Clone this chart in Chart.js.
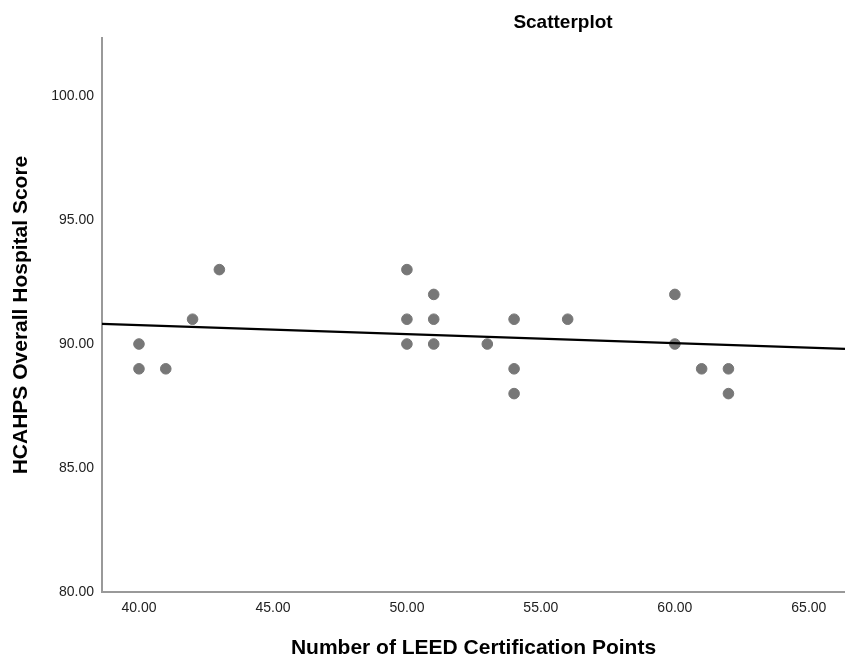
<!DOCTYPE html>
<html>
<head>
<meta charset="utf-8">
<script src="https://cdn.jsdelivr.net/npm/chart.js@4/dist/chart.umd.min.js"></script>
<style>
html,body{margin:0;padding:0;background:#fff;overflow:hidden;}
#wrap{width:845px;height:661px;position:relative;}
</style>
</head>
<body>
<div id="wrap"><canvas id="c" width="845" height="661"></canvas></div>
<script>
// LEED points (x) and HCAHPS score (y)
const leedPoints = [40, 40, 41, 42, 43, 50, 50, 50, 51, 51, 51, 53, 54, 54, 54, 56, 60, 60, 61, 62, 62];
const hcahpsScores = [90, 89, 89, 91, 93, 93, 91, 90, 92, 91, 90, 90, 91, 89, 88, 91, 92, 90, 89, 89, 88];
// fit line endpoints
const fitX = [38.62, 66.35];
const fitY = [90.81, 89.80];
const xTicks = [40, 45, 50, 55, 60, 65];
const yTicks = [80, 85, 90, 95, 100];
const xRange = [38.62, 66.35];
const yRange = [80, 102.34];

const chartTitle = 'Scatterplot';
const xTitle = 'Number of LEED Certification Points';
const yTitle = 'HCAHPS Overall Hospital Score';

const FONT = '"Liberation Sans", Arial, sans-serif';

const scatterData = leedPoints.map((x, i) => ({x: x, y: hcahpsScores[i]}));
const lineData = fitX.map((x, i) => ({x: x, y: fitY[i]}));

const titlePlugin = {
  id: 'topTitle',
  afterDraw(chart) {
    const ctx = chart.ctx;
    ctx.save();
    ctx.font = 'bold 19px ' + FONT;
    ctx.fillStyle = '#000';
    ctx.textAlign = 'center';
    ctx.textBaseline = 'middle';
    ctx.fillText(chartTitle, 563, 23);
    ctx.restore();
  }
};

new Chart(document.getElementById('c'), {
  type: 'scatter',
  data: {
    datasets: [
      {
        type: 'scatter',
        data: scatterData,
        backgroundColor: '#777777',
        borderColor: '#777777',
        pointRadius: 5.3,
        pointHoverRadius: 5.3,
        order: 2
      },
      {
        type: 'line',
        data: lineData,
        borderColor: '#000000',
        borderWidth: 2.2,
        pointRadius: 0,
        fill: false,
        order: 1
      }
    ]
  },
  plugins: [titlePlugin],
  options: {
    responsive: false,
    animation: false,
    events: [],
    layout: {autoPadding: false, padding: {top: 38, right: 0, left: 0, bottom: 0}},
    plugins: {legend: {display: false}, tooltip: {enabled: false}},
    scales: {
      x: {
        type: 'linear',
        min: xRange[0],
        max: xRange[1],
        afterBuildTicks: s => { s.ticks = xTicks.map(v => ({value: v})); },
        afterFit: s => { s.height = 69; s.paddingRight = 0; s.paddingLeft = 0; },
        grid: {display: false, drawTicks: false},
        border: {display: true, color: '#999999', width: 2},
        ticks: {
          padding: 8,
          color: '#222',
          font: {family: FONT, size: 14},
          callback: v => Number(v).toFixed(2),
          maxRotation: 0
        },
        title: {
          display: true,
          text: xTitle,
          color: '#000',
          font: {family: FONT, size: 21, weight: 'bold'},
          padding: {top: 0, bottom: 0}
        }
      },
      y: {
        type: 'linear',
        min: yRange[0],
        max: yRange[1],
        afterBuildTicks: s => { s.ticks = yTicks.map(v => ({value: v})); },
        afterFit: s => { s.width = 102; s.paddingTop = 0; s.paddingBottom = 0; },
        grid: {display: false, drawTicks: false},
        border: {display: true, color: '#999999', width: 2},
        ticks: {
          padding: 8,
          color: '#222',
          font: {family: FONT, size: 14},
          callback: v => Number(v).toFixed(2)
        },
        title: {
          display: true,
          text: yTitle,
          color: '#000',
          font: {family: FONT, size: 21, weight: 'bold'},
          padding: {top: 9, bottom: 0}
        }
      }
    }
  }
});
</script>
</body>
</html>
